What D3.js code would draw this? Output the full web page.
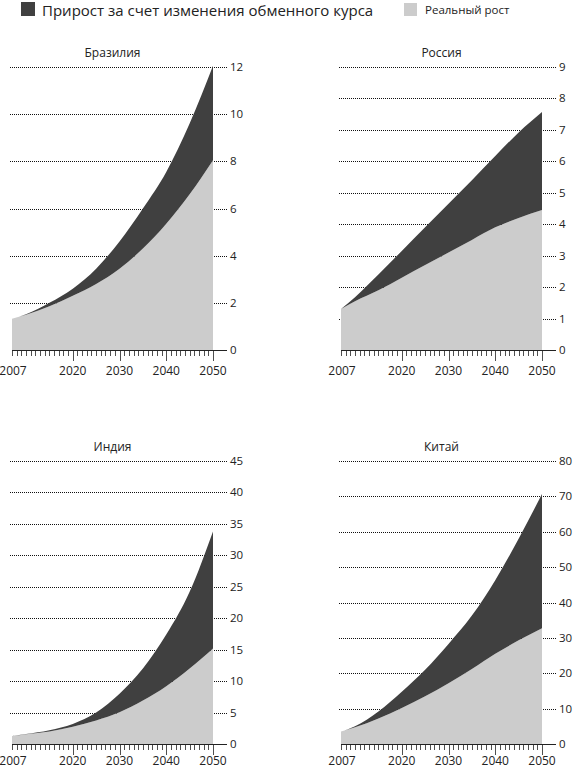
<!DOCTYPE html>
<html>
<head>
<meta charset="utf-8">
<script src="https://cdn.jsdelivr.net/npm/d3@7"></script>
<style>
  body { margin: 0; background: #fff; }
  svg { font-family: "Open Sans", "Noto Sans", sans-serif; }
</style>
</head>
<body>
<div id="chart"></div>
<script>
const width = 573;
const height = 770;

// Years
const years = [2007, 2010, 2015, 2020, 2025, 2030, 2035, 2040, 2045, 2050];

// Real growth (light) and total incl. exchange-rate gain (top of dark band)
const brazilReal  = [1.33, 1.5, 1.85, 2.3, 2.8, 3.45, 4.3, 5.35, 6.6, 8.05];
const brazilTotal = [1.33, 1.52, 2.0, 2.6, 3.45, 4.6, 6.0, 7.55, 9.6, 12.05];

const russiaReal  = [1.3, 1.55, 1.9, 2.3, 2.7, 3.1, 3.5, 3.9, 4.2, 4.45];
const russiaTotal = [1.3, 1.68, 2.4, 3.15, 3.9, 4.65, 5.4, 6.17, 6.92, 7.57];

const indiaReal  = [1.27, 1.55, 2.0, 2.75, 3.75, 5.05, 6.9, 9.2, 12.0, 15.2];
const indiaTotal = [1.27, 1.6, 2.2, 3.2, 5.0, 8.0, 12.0, 17.4, 24.2, 33.8];

const chinaReal  = [3.5, 4.7, 7.2, 10.2, 13.5, 17.2, 21.2, 25.5, 29.3, 32.7];
const chinaTotal = [3.5, 5.0, 9.2, 14.8, 21.0, 28.3, 36.3, 46.3, 58.0, 70.7];

const xLabels = [2007, 2020, 2030, 2040, 2050];
const majorYears = [2020, 2030, 2040, 2050];

const brazilTicks = [0, 2, 4, 6, 8, 10, 12];
const russiaTicks = [0, 1, 2, 3, 4, 5, 6, 7, 8, 9];
const indiaTicks  = [0, 5, 10, 15, 20, 25, 30, 35, 40, 45];
const chinaTicks  = [0, 10, 20, 30, 40, 50, 60, 70, 80];

const darkColor = "#404040";
const lightColor = "#cccccc";
const inkColor = "#222";

const svg = d3.select("#chart")
    .append("svg")
    .attr("width", width)
    .attr("height", height);

// Legend
svg.append("rect")
    .attr("x", 21).attr("y", 2).attr("width", 14).attr("height", 14)
    .attr("fill", darkColor);
svg.append("text")
    .attr("x", 42).attr("y", 15.5)
    .style("font-size", "15px")
    .style("fill", inkColor)
    .text("Прирост за счет изменения обменного курса");
svg.append("rect")
    .attr("x", 404).attr("y", 3).attr("width", 13).attr("height", 13)
    .attr("fill", lightColor);
svg.append("text")
    .attr("x", 425).attr("y", 14)
    .style("font-size", "11.5px")
    .style("fill", inkColor)
    .text("Реальный рост");

const panels = [
    { title: "Бразилия", real: brazilReal, total: brazilTotal, ticks: brazilTicks, left: 12,  top: 67,  bottom: 350, labelGap: 25 },
    { title: "Россия",   real: russiaReal, total: russiaTotal, ticks: russiaTicks, left: 341, top: 67,  bottom: 350, labelGap: 25 },
    { title: "Индия",    real: indiaReal,  total: indiaTotal,  ticks: indiaTicks,  left: 12,  top: 461, bottom: 744, labelGap: 21 },
    { title: "Китай",    real: chinaReal,  total: chinaTotal,  ticks: chinaTicks,  left: 341, top: 461, bottom: 744, labelGap: 21 }
];

const plotWidth = 201;

panels.forEach(p => {
    const g = svg.append("g");
    const x = d3.scaleLinear()
        .domain([2007, 2050])
        .range([p.left, p.left + plotWidth]);
    const y = d3.scaleLinear()
        .domain([0, d3.max(p.ticks)])
        .range([p.bottom, p.top]);
    const right = p.left + plotWidth + 14;

    // Title
    g.append("text")
        .attr("x", p.left + plotWidth / 2)
        .attr("y", p.top - 10)
        .attr("text-anchor", "middle")
        .style("font-size", "12px")
        .style("fill", inkColor)
        .text(p.title);

    // Dotted grid lines
    g.append("g")
        .selectAll("line")
        .data(p.ticks.filter(t => t > 0))
        .join("line")
        .attr("x1", p.left - 2)
        .attr("x2", right)
        .attr("y1", d => Math.round(y(d)) + 0.5)
        .attr("y2", d => Math.round(y(d)) + 0.5)
        .attr("stroke", "#111")
        .attr("stroke-width", 1)
        .attr("stroke-dasharray", "1,1");

    const rows = years.map((yr, i) => ({ year: yr, real: p.real[i], total: p.total[i] }));

    const darkArea = d3.area()
        .x(d => x(d.year))
        .y0(d => y(d.real))
        .y1(d => y(d.total))
        .curve(d3.curveMonotoneX);
    const lightArea = d3.area()
        .x(d => x(d.year))
        .y0(y(0))
        .y1(d => y(d.real))
        .curve(d3.curveMonotoneX);

    g.append("path").attr("d", lightArea(rows)).attr("fill", lightColor);
    g.append("path").attr("d", darkArea(rows)).attr("fill", darkColor);

    // Y labels on the right
    g.append("g")
        .selectAll("text")
        .data(p.ticks)
        .join("text")
        .attr("x", right + 3)
        .attr("y", d => y(d))
        .attr("dy", "0.35em")
        .style("font-size", "11.5px")
        .style("fill", inkColor)
        .text(d => d);

    // X axis line
    g.append("line")
        .attr("x1", p.left)
        .attr("x2", right)
        .attr("y1", p.bottom + 0.5)
        .attr("y2", p.bottom + 0.5)
        .attr("stroke", inkColor)
        .attr("stroke-width", 1.2);

    // Yearly ticks
    g.append("g")
        .selectAll("line")
        .data(d3.range(2007, 2051))
        .join("line")
        .attr("x1", d => Math.round(x(d)) + 0.5)
        .attr("x2", d => Math.round(x(d)) + 0.5)
        .attr("y1", p.bottom)
        .attr("y2", d => p.bottom + (majorYears.includes(d) ? 11 : 6))
        .attr("stroke", inkColor)
        .attr("stroke-width", 0.8);

    g.append("g")
        .selectAll("text")
        .data(xLabels)
        .join("text")
        .attr("x", d => x(d) + (d === 2007 ? 1 : 0))
        .attr("y", p.bottom + p.labelGap)
        .attr("text-anchor", "middle")
        .style("font-size", "12px")
        .style("fill", inkColor)
        .text(d => d);
});
</script>
</body>
</html>
